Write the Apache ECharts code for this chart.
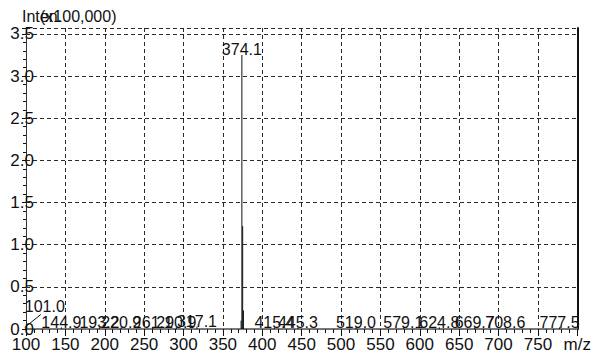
<!DOCTYPE html>
<html>
<head>
<meta charset="utf-8">
<script src="https://cdn.jsdelivr.net/npm/echarts@6/dist/echarts.min.js"></script>
<style>
  html, body { margin: 0; padding: 0; background: #fff; }
  #chart { width: 594px; height: 360px; }
</style>
</head>
<body>
<div id="chart"></div>
<script>
// Mass spectrum: m/z of each peak, relative intensity (x100,000) and its printed label
const peakMz = [101.0, 144.9, 193.2, 220.9, 261.1, 290.9, 317.1, 373.1, 374.1, 375.1, 376.1, 415.4, 445.3, 519.0, 579.1, 624.8, 669.7, 708.6, 777.5];
const peakIntensity = [0.03, 0.02, 0.02, 0.02, 0.02, 0.02, 0.03, 0.10, 3.25, 1.22, 0.22, 0.02, 0.02, 0.02, 0.02, 0.02, 0.02, 0.02, 0.02];
const peakLabels = ['101.0', '144.9', '193.2', '220.9', '261.1', '290.9', '317.1', '', '374.1', '', '', '415.4', '445.3', '519.0', '579.1', '624.8', '669.7', '708.6', '777.5'];

const xMin = 100, xMax = 800, xStep = 50;
const yMin = 0, yMax = 3.57, yStep = 0.5;

const FONT = '"Liberation Sans", Arial, sans-serif';
const gridDash = { color: '#2a2a2a', width: 1, type: [4, 3] };

const chart = echarts.init(document.getElementById('chart'), null, { renderer: 'svg' });

const peaks = peakMz.map((mz, i) => [mz, peakIntensity[i], peakLabels[i]]);

function renderPeak(params, api) {
  const mz = api.value(0);
  const inten = api.value(1);
  const label = peakLabels[params.dataIndex];
  const top = api.coord([mz, inten]);
  const base = api.coord([mz, 0]);
  const children = [{
    type: 'line',
    shape: { x1: top[0], y1: base[1], x2: top[0], y2: top[1] },
    style: { stroke: '#111', lineWidth: 1 }
  }];
  if (label) {
    const fs = 16;
    const w = label.length * 0.52 * fs;
    const left = params.coordSys.x;
    if (top[0] - w / 2 < left) {
      // label would cross the y axis: lift it up-right with a leader line
      children.push({
        type: 'line',
        shape: { x1: top[0] - 2, y1: top[1] + 1, x2: top[0] + 14, y2: top[1] - 12 },
        style: { stroke: '#111', lineWidth: 1 }
      });
      children.push({
        type: 'text',
        style: {
          text: label, x: top[0] - 2, y: top[1] - 12,
          fontSize: fs, fontFamily: FONT, fill: '#111',
          align: 'left', verticalAlign: 'bottom'
        }
      });
    } else {
      children.push({
        type: 'text',
        style: {
          text: label, x: top[0], y: top[1] + 3,
          fontSize: fs, fontFamily: FONT, fill: '#111',
          align: 'center', verticalAlign: 'bottom'
        }
      });
    }
  }
  return { type: 'group', children };
}

chart.setOption({
  animation: false,
  backgroundColor: '#fff',
  grid: { left: 26, right: 16, top: 28, bottom: 31, containLabel: false },
  xAxis: [{
    type: 'value', min: xMin, max: xMax, interval: xStep,
    axisLine: { show: true, lineStyle: { color: '#111', width: 1.5 } },
    axisTick: { show: true, length: 7, lineStyle: { color: '#111' } },
    minorTick: { show: true, splitNumber: 5, length: 4, lineStyle: { color: '#111' } },
    splitLine: { show: true, lineStyle: gridDash },
    axisLabel: {
      margin: 7, fontSize: 17, fontFamily: FONT, color: '#111',
      showMinLabel: true, showMaxLabel: true,
      formatter: v => (v === xMax ? 'm/z' : String(v))
    }
  }, {
    type: 'value', position: 'top', min: xMin, max: xMax,
    axisLine: { show: true, lineStyle: { color: '#8a8a8a', width: 1.5 } },
    axisTick: { show: false }, axisLabel: { show: false }, splitLine: { show: false }
  }],
  yAxis: [{
    type: 'value', min: yMin, max: yMax, interval: yStep,
    axisLine: { show: true, lineStyle: { color: '#333', width: 1 } },
    axisTick: { show: true, length: 4, lineStyle: { color: '#111' } },
    minorTick: { show: true, splitNumber: 5, length: 3, lineStyle: { color: '#111' } },
    splitLine: { show: true, lineStyle: gridDash },
    axisLabel: {
      margin: -8, fontSize: 17, fontFamily: FONT, color: '#111',
      formatter: v => (Math.abs(v / yStep - Math.round(v / yStep)) < 1e-6 ? v.toFixed(1) : '')
    }
  }, {
    type: 'value', position: 'right', min: yMin, max: yMax,
    axisLine: { show: true, lineStyle: { color: '#111', width: 2 } },
    axisTick: { show: false }, axisLabel: { show: false }, splitLine: { show: false }
  }],
  graphic: [
    { type: 'text', left: 22, top: 8, style: { text: 'Inten.', fontSize: 16, fontFamily: FONT, fill: '#111' } },
    { type: 'text', left: 40, top: 8, style: { text: '(x100,000)', fontSize: 16, fontFamily: FONT, fill: '#111' } }
  ],
  series: [{
    type: 'custom',
    renderItem: renderPeak,
    data: peaks,
    encode: { x: 0, y: 1 },
    clip: false,
    z: 10
  }]
});
</script>
</body>
</html>
